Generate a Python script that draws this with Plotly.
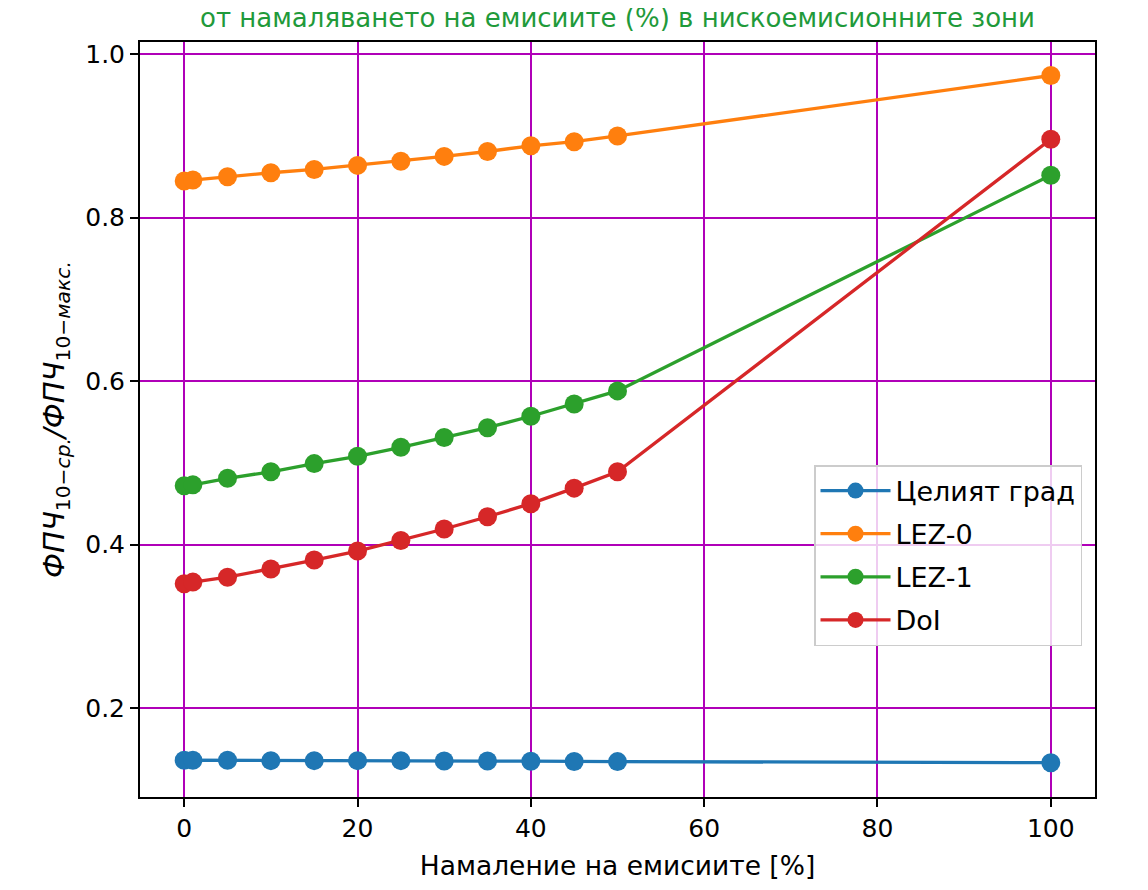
import plotly.graph_objects as go

x_vals = [0, 1, 5, 10, 15, 20, 25, 30, 35, 40, 45, 50, 100]

city = [0.136, 0.136, 0.136, 0.1355, 0.1355, 0.1355, 0.1355, 0.135, 0.135, 0.1348, 0.1345, 0.1343, 0.133]
lez0 = [0.845, 0.846, 0.850, 0.855, 0.859, 0.864, 0.869, 0.875, 0.881, 0.888, 0.893, 0.900, 0.974]
lez1 = [0.472, 0.473, 0.481, 0.489, 0.499, 0.508, 0.519, 0.531, 0.543, 0.557, 0.572, 0.588, 0.852]
doi = [0.352, 0.354, 0.360, 0.370, 0.381, 0.392, 0.405, 0.419, 0.434, 0.450, 0.469, 0.489, 0.896]

series_names = ["Целият град", "LEZ-0", "LEZ-1", "DoI"]
series_colors = ["#1f77b4", "#ff7f0e", "#2ca02c", "#d62728"]
series_values = [city, lez0, lez1, doi]

x_ticks = [0, 20, 40, 60, 80, 100]
y_ticks = [0.2, 0.4, 0.6, 0.8, 1.0]

title_text = "от намаляването на емисиите (%) в нискоемисионните зони"
x_title = "Намаление на емисиите [%]"
y_title = "<i>ФПЧ</i><sub>10−<i>ср.</i></sub><i>/ФПЧ</i><sub>10−<i>макс.</i></sub>"

FONT = "DejaVu Sans"
GRID = "#b000b8"

# page body has an 8px margin; compensate so the plot area lands where the reference has it
W, H = 1140, 882
ML, MR, MT, MB = 132, 53, 34, 93

fig = go.Figure()
for name, color, vals in zip(series_names, series_colors, series_values):
    fig.add_trace(go.Scatter(
        x=x_vals, y=vals, name=name, mode="lines+markers",
        line=dict(color=color, width=3.3),
        marker=dict(color=color, size=19),
        legendgroup=name,
    ))

fig.update_layout(
    width=W, height=H,
    margin=dict(l=ML, r=MR, t=MT, b=MB),
    paper_bgcolor="white", plot_bgcolor="white",
    font=dict(family=FONT, size=25, color="black"),
    title=dict(text=title_text, x=(ML + (W - MR)) / 2 / W, xanchor="center",
               y=1 - 10 / H, yanchor="middle",
               font=dict(family=FONT, size=26, color="#1f9a3a")),
    legend=dict(
        x=0.9864, xanchor="right", y=0.4397, yanchor="top",
        bgcolor="rgba(255,255,255,0.8)", bordercolor="#cccccc", borderwidth=1.5,
        font=dict(family=FONT, size=27, color="black"),
        tracegroupgap=5, itemwidth=70,
    ),
    showlegend=True,
)

fig.update_xaxes(
    range=[-5.1, 105.1], tickvals=x_ticks, ticks="outside", ticklen=8, tickwidth=1.5,
    tickcolor="black", showgrid=True, gridcolor=GRID, gridwidth=1.8,
    showline=True, linecolor="black", linewidth=2, mirror=True, zeroline=False,
    title=dict(text=x_title, font=dict(family=FONT, size=26.5), standoff=14),
    tickfont=dict(family=FONT, size=25),
)
fig.update_yaxes(
    range=[0.091, 1.015], tickvals=y_ticks, tickformat=".1f", ticks="outside", ticklen=8,
    tickwidth=1.5, tickcolor="black", showgrid=True, gridcolor=GRID, gridwidth=1.8,
    showline=True, linecolor="black", linewidth=2, mirror=True, zeroline=False,
    title=dict(text=y_title, font=dict(family=FONT, size=29), standoff=12),
    tickfont=dict(family=FONT, size=25),
)

fig.write_html("out.html")
